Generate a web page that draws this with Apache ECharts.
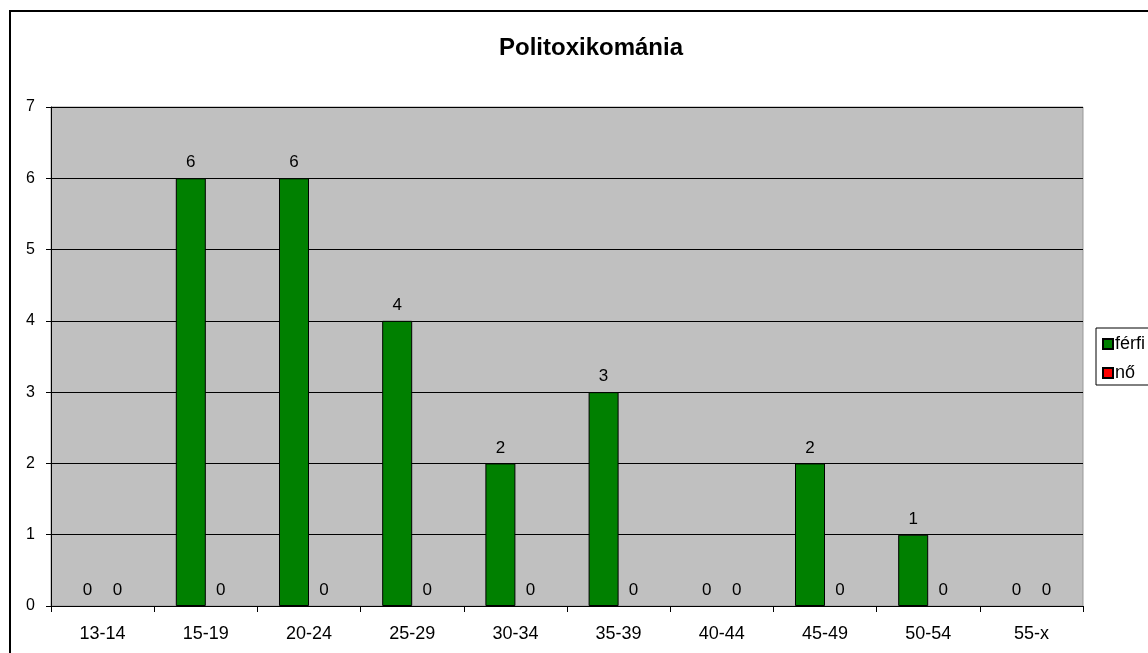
<!DOCTYPE html>
<html><head><meta charset="utf-8">
<script src="https://cdn.jsdelivr.net/npm/echarts@6/dist/echarts.min.js"></script>
<style>html,body{margin:0;padding:0;background:#fff}#c{width:1148px;height:653px}</style>
</head><body><div id="c"></div>
<script>
const categories = ["13-14","15-19","20-24","25-29","30-34","35-39","40-44","45-49","50-54","55-x"];
const ferfi = [0,6,6,4,2,3,0,2,1,0];
const no = [0,0,0,0,0,0,0,0,0,0];
const yTicks = [0,1,2,3,4,5,6,7];
const F = "Liberation Sans, Arial, sans-serif";
const chart = echarts.init(document.getElementById('c'));
const lbl = {show:true, position:'top', color:'#000', fontSize:17, fontFamily:F, distance:7};
const toData = arr => arr.map(v => v === 0 ? {value:v, itemStyle:{borderWidth:0}} : v);
chart.setOption({
  animation:false,
  textStyle:{fontFamily:F},
  title:{text:'Politoxikománia', left:586, textAlign:'center', top:31,
    textStyle:{fontSize:24, fontWeight:'bold', color:'#000', fontFamily:F}},
  graphic:[{type:'rect', shape:{x:10,y:11,width:1300,height:800}, style:{fill:'none', stroke:'#000', lineWidth:2}, silent:true, z:-10}],
  legend:{orient:'vertical', left:1096, top:328, padding:[7,40,3,6], itemGap:11,
    itemWidth:10, itemHeight:10, borderColor:'#000', borderWidth:1, backgroundColor:'#fff',
    textStyle:{fontSize:18, color:'#000', fontFamily:F, padding:[0,0,0,-3]},
    data:[{name:'férfi', icon:'rect'},{name:'nő', icon:'rect'}]},
  grid:{left:51, right:65, top:107, bottom:47, show:true, backgroundColor:'#C0C0C0', borderColor:'#999', borderWidth:1},
  xAxis:{type:'category', data:categories,
    axisLine:{lineStyle:{color:'#000', width:1}},
    axisTick:{show:true, length:6, lineStyle:{color:'#000'}},
    axisLabel:{fontSize:18, color:'#000', margin:19, fontFamily:F}},
  yAxis:{type:'value', min:0, max:7, interval:1,
    axisLine:{show:true, lineStyle:{color:'#000'}},
    axisTick:{show:true, length:5, lineStyle:{color:'#000'}},
    splitLine:{lineStyle:{color:'#000', width:1}},
    axisLabel:{fontSize:16, color:'#000', margin:16, fontFamily:F}},
  series:[
    {name:'férfi', type:'bar', data:toData(ferfi), barWidth:30, barGap:'0%',
     itemStyle:{color:'#008000', borderColor:'#000', borderWidth:1}, label:lbl},
    {name:'nő', type:'bar', data:toData(no), barWidth:30,
     itemStyle:{color:'#FF0000', borderColor:'#000', borderWidth:1}, label:lbl}
  ]
});
</script></body></html>
